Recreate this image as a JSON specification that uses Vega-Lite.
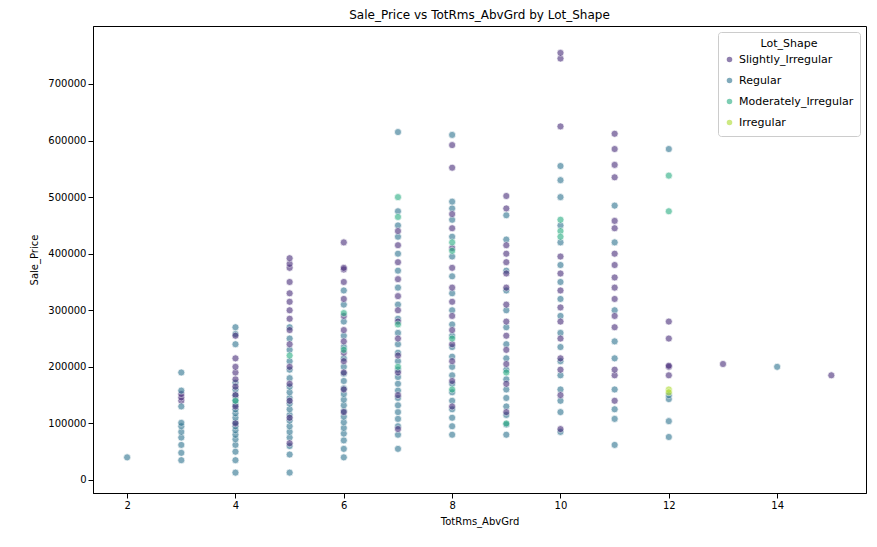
{
  "$schema": "https://vega.github.io/schema/vega-lite/v6.json",
  "width": 773,
  "height": 467,
  "padding": {"left": 93, "top": 26, "right": 11, "bottom": 54},
  "autosize": {"type": "none"},
  "config": {
    "font": "DejaVu Sans",
    "view": {"stroke": "black"},
    "axis": {"grid": false, "labelFontSize": 10, "titleFontSize": 10, "titleFontWeight": "normal", "labelColor": "black", "titleColor": "black", "domainColor": "black", "tickColor": "black"}
  },
  "title": {"text": "Sale_Price vs TotRms_AbvGrd by Lot_Shape", "fontSize": 12, "fontWeight": "normal", "offset": 4},
  "data": {"values": [
    {"r":2,"p":40000,"s":"Regular"},
    {"r":3,"p":140000,"s":"Slightly_Irregular"},{"r":3,"p":146000,"s":"Slightly_Irregular"},{"r":3,"p":152000,"s":"Slightly_Irregular"},
    {"r":3,"p":35000,"s":"Regular"},{"r":3,"p":48000,"s":"Regular"},{"r":3,"p":62000,"s":"Regular"},{"r":3,"p":75000,"s":"Regular"},{"r":3,"p":85000,"s":"Regular"},{"r":3,"p":95000,"s":"Regular"},{"r":3,"p":101000,"s":"Regular"},{"r":3,"p":130000,"s":"Regular"},{"r":3,"p":158000,"s":"Regular"},{"r":3,"p":190000,"s":"Regular"},
    {"r":4,"p":13000,"s":"Regular"},{"r":4,"p":35000,"s":"Regular"},{"r":4,"p":50000,"s":"Regular"},{"r":4,"p":62000,"s":"Regular"},{"r":4,"p":72000,"s":"Regular"},{"r":4,"p":80000,"s":"Regular"},{"r":4,"p":88000,"s":"Regular"},{"r":4,"p":95000,"s":"Regular"},{"r":4,"p":102000,"s":"Regular"},{"r":4,"p":110000,"s":"Regular"},{"r":4,"p":118000,"s":"Regular"},{"r":4,"p":125000,"s":"Regular"},{"r":4,"p":133000,"s":"Regular"},{"r":4,"p":141000,"s":"Regular"},{"r":4,"p":150000,"s":"Regular"},{"r":4,"p":160000,"s":"Regular"},{"r":4,"p":172000,"s":"Regular"},{"r":4,"p":240000,"s":"Regular"},{"r":4,"p":258000,"s":"Regular"},{"r":4,"p":270000,"s":"Regular"},
    {"r":4,"p":100000,"s":"Slightly_Irregular"},{"r":4,"p":130000,"s":"Slightly_Irregular"},{"r":4,"p":150000,"s":"Slightly_Irregular"},{"r":4,"p":165000,"s":"Slightly_Irregular"},{"r":4,"p":178000,"s":"Slightly_Irregular"},{"r":4,"p":190000,"s":"Slightly_Irregular"},{"r":4,"p":200000,"s":"Slightly_Irregular"},{"r":4,"p":215000,"s":"Slightly_Irregular"},{"r":4,"p":255000,"s":"Slightly_Irregular"},{"r":4,"p":140000,"s":"Moderately_Irregular"},
    {"r":5,"p":13000,"s":"Regular"},{"r":5,"p":45000,"s":"Regular"},{"r":5,"p":60000,"s":"Regular"},{"r":5,"p":75000,"s":"Regular"},{"r":5,"p":85000,"s":"Regular"},{"r":5,"p":95000,"s":"Regular"},{"r":5,"p":105000,"s":"Regular"},{"r":5,"p":115000,"s":"Regular"},{"r":5,"p":125000,"s":"Regular"},{"r":5,"p":135000,"s":"Regular"},{"r":5,"p":145000,"s":"Regular"},{"r":5,"p":155000,"s":"Regular"},{"r":5,"p":165000,"s":"Regular"},{"r":5,"p":180000,"s":"Regular"},{"r":5,"p":195000,"s":"Regular"},{"r":5,"p":210000,"s":"Regular"},{"r":5,"p":230000,"s":"Regular"},{"r":5,"p":250000,"s":"Regular"},{"r":5,"p":270000,"s":"Regular"},
    {"r":5,"p":65000,"s":"Slightly_Irregular"},{"r":5,"p":110000,"s":"Slightly_Irregular"},{"r":5,"p":140000,"s":"Slightly_Irregular"},{"r":5,"p":170000,"s":"Slightly_Irregular"},{"r":5,"p":200000,"s":"Slightly_Irregular"},{"r":5,"p":240000,"s":"Slightly_Irregular"},{"r":5,"p":265000,"s":"Slightly_Irregular"},{"r":5,"p":285000,"s":"Slightly_Irregular"},{"r":5,"p":300000,"s":"Slightly_Irregular"},{"r":5,"p":315000,"s":"Slightly_Irregular"},{"r":5,"p":330000,"s":"Slightly_Irregular"},{"r":5,"p":350000,"s":"Slightly_Irregular"},{"r":5,"p":375000,"s":"Slightly_Irregular"},{"r":5,"p":382000,"s":"Slightly_Irregular"},{"r":5,"p":392000,"s":"Slightly_Irregular"},{"r":5,"p":220000,"s":"Moderately_Irregular"},
    {"r":6,"p":40000,"s":"Regular"},{"r":6,"p":55000,"s":"Regular"},{"r":6,"p":70000,"s":"Regular"},{"r":6,"p":82000,"s":"Regular"},{"r":6,"p":92000,"s":"Regular"},{"r":6,"p":102000,"s":"Regular"},{"r":6,"p":112000,"s":"Regular"},{"r":6,"p":122000,"s":"Regular"},{"r":6,"p":132000,"s":"Regular"},{"r":6,"p":142000,"s":"Regular"},{"r":6,"p":152000,"s":"Regular"},{"r":6,"p":162000,"s":"Regular"},{"r":6,"p":175000,"s":"Regular"},{"r":6,"p":188000,"s":"Regular"},{"r":6,"p":200000,"s":"Regular"},{"r":6,"p":215000,"s":"Regular"},{"r":6,"p":235000,"s":"Regular"},{"r":6,"p":255000,"s":"Regular"},{"r":6,"p":280000,"s":"Regular"},{"r":6,"p":310000,"s":"Regular"},{"r":6,"p":335000,"s":"Regular"},
    {"r":6,"p":120000,"s":"Slightly_Irregular"},{"r":6,"p":160000,"s":"Slightly_Irregular"},{"r":6,"p":190000,"s":"Slightly_Irregular"},{"r":6,"p":210000,"s":"Slightly_Irregular"},{"r":6,"p":225000,"s":"Slightly_Irregular"},{"r":6,"p":245000,"s":"Slightly_Irregular"},{"r":6,"p":265000,"s":"Slightly_Irregular"},{"r":6,"p":290000,"s":"Slightly_Irregular"},{"r":6,"p":320000,"s":"Slightly_Irregular"},{"r":6,"p":350000,"s":"Slightly_Irregular"},{"r":6,"p":372000,"s":"Slightly_Irregular"},{"r":6,"p":375000,"s":"Slightly_Irregular"},{"r":6,"p":420000,"s":"Slightly_Irregular"},{"r":6,"p":230000,"s":"Moderately_Irregular"},{"r":6,"p":295000,"s":"Moderately_Irregular"},
    {"r":7,"p":55000,"s":"Regular"},{"r":7,"p":80000,"s":"Regular"},{"r":7,"p":95000,"s":"Regular"},{"r":7,"p":108000,"s":"Regular"},{"r":7,"p":120000,"s":"Regular"},{"r":7,"p":132000,"s":"Regular"},{"r":7,"p":145000,"s":"Regular"},{"r":7,"p":158000,"s":"Regular"},{"r":7,"p":170000,"s":"Regular"},{"r":7,"p":182000,"s":"Regular"},{"r":7,"p":195000,"s":"Regular"},{"r":7,"p":210000,"s":"Regular"},{"r":7,"p":225000,"s":"Regular"},{"r":7,"p":240000,"s":"Regular"},{"r":7,"p":260000,"s":"Regular"},{"r":7,"p":285000,"s":"Regular"},{"r":7,"p":310000,"s":"Regular"},{"r":7,"p":340000,"s":"Regular"},{"r":7,"p":370000,"s":"Regular"},{"r":7,"p":400000,"s":"Regular"},{"r":7,"p":430000,"s":"Regular"},{"r":7,"p":450000,"s":"Regular"},{"r":7,"p":475000,"s":"Regular"},{"r":7,"p":615000,"s":"Regular"},
    {"r":7,"p":90000,"s":"Slightly_Irregular"},{"r":7,"p":150000,"s":"Slightly_Irregular"},{"r":7,"p":190000,"s":"Slightly_Irregular"},{"r":7,"p":220000,"s":"Slightly_Irregular"},{"r":7,"p":250000,"s":"Slightly_Irregular"},{"r":7,"p":280000,"s":"Slightly_Irregular"},{"r":7,"p":300000,"s":"Slightly_Irregular"},{"r":7,"p":325000,"s":"Slightly_Irregular"},{"r":7,"p":355000,"s":"Slightly_Irregular"},{"r":7,"p":385000,"s":"Slightly_Irregular"},{"r":7,"p":415000,"s":"Slightly_Irregular"},{"r":7,"p":440000,"s":"Slightly_Irregular"},
    {"r":7,"p":500000,"s":"Moderately_Irregular"},{"r":7,"p":465000,"s":"Moderately_Irregular"},{"r":7,"p":275000,"s":"Moderately_Irregular"},{"r":7,"p":200000,"s":"Moderately_Irregular"},
    {"r":8,"p":80000,"s":"Regular"},{"r":8,"p":95000,"s":"Regular"},{"r":8,"p":110000,"s":"Regular"},{"r":8,"p":125000,"s":"Regular"},{"r":8,"p":140000,"s":"Regular"},{"r":8,"p":155000,"s":"Regular"},{"r":8,"p":170000,"s":"Regular"},{"r":8,"p":185000,"s":"Regular"},{"r":8,"p":200000,"s":"Regular"},{"r":8,"p":218000,"s":"Regular"},{"r":8,"p":235000,"s":"Regular"},{"r":8,"p":255000,"s":"Regular"},{"r":8,"p":275000,"s":"Regular"},{"r":8,"p":300000,"s":"Regular"},{"r":8,"p":330000,"s":"Regular"},{"r":8,"p":360000,"s":"Regular"},{"r":8,"p":395000,"s":"Regular"},{"r":8,"p":430000,"s":"Regular"},{"r":8,"p":460000,"s":"Regular"},{"r":8,"p":480000,"s":"Regular"},{"r":8,"p":492000,"s":"Regular"},{"r":8,"p":610000,"s":"Regular"},
    {"r":8,"p":130000,"s":"Slightly_Irregular"},{"r":8,"p":175000,"s":"Slightly_Irregular"},{"r":8,"p":210000,"s":"Slightly_Irregular"},{"r":8,"p":240000,"s":"Slightly_Irregular"},{"r":8,"p":265000,"s":"Slightly_Irregular"},{"r":8,"p":290000,"s":"Slightly_Irregular"},{"r":8,"p":315000,"s":"Slightly_Irregular"},{"r":8,"p":340000,"s":"Slightly_Irregular"},{"r":8,"p":375000,"s":"Slightly_Irregular"},{"r":8,"p":410000,"s":"Slightly_Irregular"},{"r":8,"p":445000,"s":"Slightly_Irregular"},{"r":8,"p":470000,"s":"Slightly_Irregular"},{"r":8,"p":552000,"s":"Slightly_Irregular"},{"r":8,"p":592000,"s":"Slightly_Irregular"},
    {"r":8,"p":420000,"s":"Moderately_Irregular"},{"r":8,"p":405000,"s":"Moderately_Irregular"},{"r":8,"p":250000,"s":"Moderately_Irregular"},{"r":8,"p":160000,"s":"Moderately_Irregular"},
    {"r":9,"p":80000,"s":"Regular"},{"r":9,"p":98000,"s":"Regular"},{"r":9,"p":115000,"s":"Regular"},{"r":9,"p":130000,"s":"Regular"},{"r":9,"p":145000,"s":"Regular"},{"r":9,"p":160000,"s":"Regular"},{"r":9,"p":178000,"s":"Regular"},{"r":9,"p":195000,"s":"Regular"},{"r":9,"p":215000,"s":"Regular"},{"r":9,"p":240000,"s":"Regular"},{"r":9,"p":270000,"s":"Regular"},{"r":9,"p":300000,"s":"Regular"},{"r":9,"p":335000,"s":"Regular"},{"r":9,"p":370000,"s":"Regular"},{"r":9,"p":425000,"s":"Regular"},{"r":9,"p":468000,"s":"Regular"},
    {"r":9,"p":120000,"s":"Slightly_Irregular"},{"r":9,"p":170000,"s":"Slightly_Irregular"},{"r":9,"p":205000,"s":"Slightly_Irregular"},{"r":9,"p":230000,"s":"Slightly_Irregular"},{"r":9,"p":255000,"s":"Slightly_Irregular"},{"r":9,"p":280000,"s":"Slightly_Irregular"},{"r":9,"p":310000,"s":"Slightly_Irregular"},{"r":9,"p":340000,"s":"Slightly_Irregular"},{"r":9,"p":365000,"s":"Slightly_Irregular"},{"r":9,"p":385000,"s":"Slightly_Irregular"},{"r":9,"p":400000,"s":"Slightly_Irregular"},{"r":9,"p":415000,"s":"Slightly_Irregular"},{"r":9,"p":480000,"s":"Slightly_Irregular"},{"r":9,"p":502000,"s":"Slightly_Irregular"},{"r":9,"p":100000,"s":"Moderately_Irregular"},{"r":9,"p":190000,"s":"Moderately_Irregular"},
    {"r":10,"p":85000,"s":"Regular"},{"r":10,"p":120000,"s":"Regular"},{"r":10,"p":140000,"s":"Regular"},{"r":10,"p":160000,"s":"Regular"},{"r":10,"p":185000,"s":"Regular"},{"r":10,"p":210000,"s":"Regular"},{"r":10,"p":235000,"s":"Regular"},{"r":10,"p":260000,"s":"Regular"},{"r":10,"p":290000,"s":"Regular"},{"r":10,"p":320000,"s":"Regular"},{"r":10,"p":350000,"s":"Regular"},{"r":10,"p":380000,"s":"Regular"},{"r":10,"p":420000,"s":"Regular"},{"r":10,"p":450000,"s":"Regular"},{"r":10,"p":500000,"s":"Regular"},{"r":10,"p":530000,"s":"Regular"},{"r":10,"p":555000,"s":"Regular"},
    {"r":10,"p":90000,"s":"Slightly_Irregular"},{"r":10,"p":150000,"s":"Slightly_Irregular"},{"r":10,"p":195000,"s":"Slightly_Irregular"},{"r":10,"p":215000,"s":"Slightly_Irregular"},{"r":10,"p":250000,"s":"Slightly_Irregular"},{"r":10,"p":280000,"s":"Slightly_Irregular"},{"r":10,"p":305000,"s":"Slightly_Irregular"},{"r":10,"p":335000,"s":"Slightly_Irregular"},{"r":10,"p":365000,"s":"Slightly_Irregular"},{"r":10,"p":395000,"s":"Slightly_Irregular"},{"r":10,"p":625000,"s":"Slightly_Irregular"},{"r":10,"p":745000,"s":"Slightly_Irregular"},{"r":10,"p":755000,"s":"Slightly_Irregular"},
    {"r":10,"p":440000,"s":"Moderately_Irregular"},{"r":10,"p":430000,"s":"Moderately_Irregular"},{"r":10,"p":460000,"s":"Moderately_Irregular"},
    {"r":11,"p":62000,"s":"Regular"},{"r":11,"p":108000,"s":"Regular"},{"r":11,"p":125000,"s":"Regular"},{"r":11,"p":160000,"s":"Regular"},{"r":11,"p":215000,"s":"Regular"},{"r":11,"p":245000,"s":"Regular"},{"r":11,"p":300000,"s":"Regular"},{"r":11,"p":420000,"s":"Regular"},{"r":11,"p":485000,"s":"Regular"},
    {"r":11,"p":140000,"s":"Slightly_Irregular"},{"r":11,"p":185000,"s":"Slightly_Irregular"},{"r":11,"p":195000,"s":"Slightly_Irregular"},{"r":11,"p":270000,"s":"Slightly_Irregular"},{"r":11,"p":290000,"s":"Slightly_Irregular"},{"r":11,"p":320000,"s":"Slightly_Irregular"},{"r":11,"p":340000,"s":"Slightly_Irregular"},{"r":11,"p":358000,"s":"Slightly_Irregular"},{"r":11,"p":380000,"s":"Slightly_Irregular"},{"r":11,"p":400000,"s":"Slightly_Irregular"},{"r":11,"p":445000,"s":"Slightly_Irregular"},{"r":11,"p":458000,"s":"Slightly_Irregular"},{"r":11,"p":535000,"s":"Slightly_Irregular"},{"r":11,"p":557000,"s":"Slightly_Irregular"},{"r":11,"p":585000,"s":"Slightly_Irregular"},{"r":11,"p":612000,"s":"Slightly_Irregular"},
    {"r":12,"p":76000,"s":"Regular"},{"r":12,"p":104000,"s":"Regular"},{"r":12,"p":143000,"s":"Regular"},{"r":12,"p":150000,"s":"Regular"},{"r":12,"p":585000,"s":"Regular"},
    {"r":12,"p":185000,"s":"Slightly_Irregular"},{"r":12,"p":200000,"s":"Slightly_Irregular"},{"r":12,"p":202000,"s":"Slightly_Irregular"},{"r":12,"p":250000,"s":"Slightly_Irregular"},{"r":12,"p":280000,"s":"Slightly_Irregular"},
    {"r":12,"p":538000,"s":"Moderately_Irregular"},{"r":12,"p":475000,"s":"Moderately_Irregular"},
    {"r":12,"p":160000,"s":"Irregular"},{"r":12,"p":155000,"s":"Irregular"},
    {"r":13,"p":205000,"s":"Slightly_Irregular"},
    {"r":14,"p":200000,"s":"Regular"},
    {"r":15,"p":185000,"s":"Slightly_Irregular"}
  ]},
  "mark": {"type": "point", "filled": true, "size": 50, "opacity": 0.6, "stroke": "white", "strokeWidth": 0.7, "strokeOpacity": 1},
  "encoding": {
    "x": {"field": "r", "type": "quantitative", "title": "TotRms_AbvGrd",
      "scale": {"domain": [1.37, 15.64], "nice": false, "zero": false},
      "axis": {"values": [2, 4, 6, 8, 10, 12, 14], "titlePadding": 6}},
    "y": {"field": "p", "type": "quantitative", "title": "Sale_Price",
      "scale": {"domain": [-23000, 802500], "nice": false, "zero": false},
      "axis": {"values": [0, 100000, 200000, 300000, 400000, 500000, 600000, 700000], "format": "d", "titlePadding": 8}},
    "color": {"field": "s", "type": "nominal", "title": "Lot_Shape",
      "scale": {"domain": ["Slightly_Irregular", "Regular", "Moderately_Irregular", "Irregular"], "range": ["#472c7a", "#2c728e", "#27ad81", "#addc30"]},
      "legend": {"orient": "top-right", "offset": 6, "fillColor": "white", "strokeColor": "#cccccc", "padding": 6, "cornerRadius": 3, "titleFontWeight": "normal", "titleFontSize": 11, "labelFontSize": 11, "titleAnchor": "middle", "symbolOpacity": 0.6, "symbolSize": 50, "labelColor": "black", "titleColor": "black", "rowPadding": 6}}
  }
}
